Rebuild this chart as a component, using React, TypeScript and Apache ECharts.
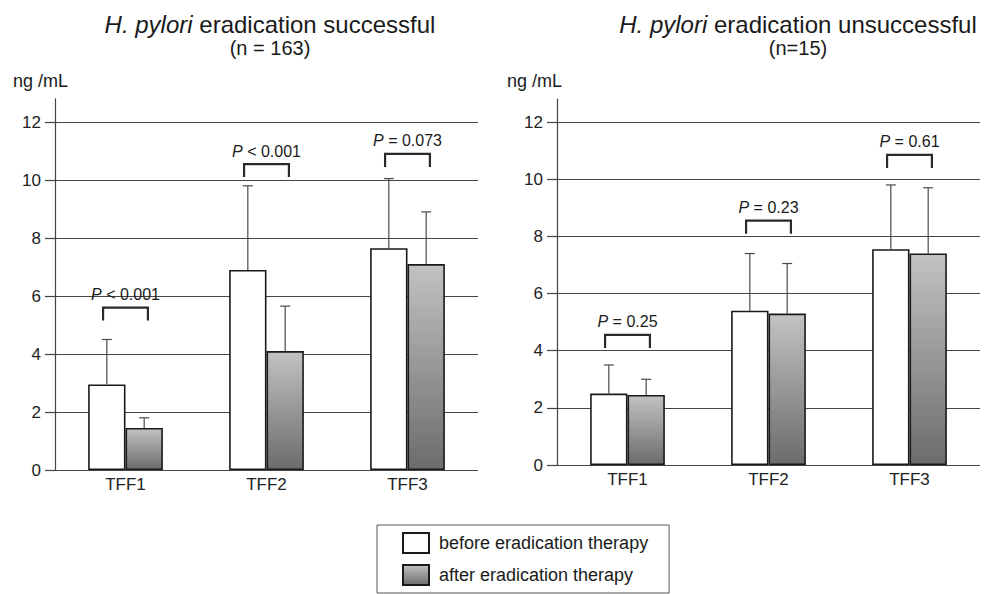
import React, { useEffect, useRef } from "react";
import * as echarts from "echarts";

const categories = ["TFF1", "TFF2", "TFF3"];
const yTicks = [0, 2, 4, 6, 8, 10, 12];

// Left panel: eradication successful (n = 163)
const leftBefore = [2.95, 6.9, 7.65];
const leftBeforeErrTop = [4.5, 9.8, 10.05];
const leftAfter = [1.45, 4.1, 7.1];
const leftAfterErrTop = [1.8, 5.65, 8.9];
const leftP = ["< 0.001", "< 0.001", "= 0.073"];
const leftBracket = [5.6, 10.55, 10.9];

// Right panel: eradication unsuccessful (n = 15)
const rightBefore = [2.5, 5.4, 7.55];
const rightBeforeErrTop = [3.5, 7.4, 9.8];
const rightAfter = [2.45, 5.3, 7.4];
const rightAfterErrTop = [3.0, 7.05, 9.7];
const rightP = ["= 0.25", "= 0.23", "= 0.61"];
const rightBracket = [4.55, 8.55, 10.85];

const BEFORE = "before eradication therapy";
const AFTER = "after eradication therapy";
const FONT = "'Liberation Sans', Arial, Helvetica, sans-serif";
const GAP = 0.47;

export default function App() {
  const ref = useRef<HTMLDivElement>(null);

  useEffect(() => {
    if (!ref.current) return;
    const chart = echarts.init(ref.current, null, { renderer: "svg" });

    const afterFill = new echarts.graphic.LinearGradient(0, 0, 0, 1, [
      { offset: 0, color: "#c2c2c2" },
      { offset: 1, color: "#6c6c6c" },
    ]);

    const barStyleBefore = { color: "#ffffff", borderColor: "#1a1a1a", borderWidth: 1.6 };
    const barStyleAfter = { color: afterFill, borderColor: "#1a1a1a", borderWidth: 1.6 };

    const errRender = (params: any, api: any) => {
      const c = api.value(0);
      const v = api.value(1);
      const t = api.value(2);
      const side = api.value(3);
      const p0 = api.coord([c, v]);
      const p1 = api.coord([c, t]);
      const band = api.size([1, 0])[0];
      const bw = (band * (1 - GAP)) / 2;
      const x = p0[0] + (side * bw) / 2;
      const st = { stroke: "#4a4a4a", lineWidth: 1.2 };
      return {
        type: "group",
        children: [
          { type: "line", shape: { x1: x, y1: p0[1], x2: x, y2: p1[1] }, style: st },
          { type: "line", shape: { x1: x - 5, y1: p1[1], x2: x + 5, y2: p1[1] }, style: st },
        ],
      };
    };

    const bracketRender = (pTexts: string[]) => (params: any, api: any) => {
      const c = api.value(0);
      const top = api.value(1);
      const p = api.coord([c, top]);
      const band = api.size([1, 0])[0];
      const bw = (band * (1 - GAP)) / 2;
      const xl = p[0] - bw * 0.6;
      const xr = p[0] + bw * 0.6;
      return {
        type: "group",
        children: [
          {
            type: "polyline",
            shape: { points: [[xl, p[1] + 13], [xl, p[1]], [xr, p[1]], [xr, p[1] + 13]] },
            style: { stroke: "#2a2a2a", lineWidth: 2.2, fill: "none" },
          },
          {
            type: "text",
            x: p[0],
            y: p[1] - 5,
            style: {
              text: "{i|P} " + pTexts[params.dataIndex],
              align: "center",
              verticalAlign: "bottom",
              fill: "#1a1a1a",
              font: `16px ${FONT}`,
              rich: {
                i: { fontStyle: "italic", fontSize: 16, fontFamily: FONT, fill: "#1a1a1a" },
              },
            },
          },
        ],
      };
    };

    const errData = (vals: number[], tops: number[], side: number) =>
      vals.map((v, i) => [i, v, tops[i], side]);
    const bracketData = (b: number[]) => b.map((v, i) => [i, v]);

    const yAxisBase = {
      type: "value",
      min: 0,
      max: 12.8,
      axisLine: { show: true, lineStyle: { color: "#444", width: 1.2 } },
      axisTick: { show: true, length: 10, customValues: yTicks, lineStyle: { color: "#444", width: 1.2 } },
      axisLabel: { customValues: yTicks, fontSize: 17, color: "#222", margin: 14, fontFamily: FONT },
      splitLine: { show: true, lineStyle: { color: "#444", width: 1.2 } },
    };
    const xAxisBase = {
      type: "category",
      data: categories,
      axisLine: { show: false },
      axisTick: { show: false },
      axisLabel: { fontSize: 17, color: "#222", margin: 6, fontFamily: FONT },
    };

    const titleText = (x: number, rest: string, sub: string) => [
      {
        type: "text",
        x,
        y: 24,
        style: {
          text: "{i|H. pylori} " + rest,
          align: "center",
          verticalAlign: "middle",
          fill: "#1a1a1a",
          font: `24px ${FONT}`,
          rich: { i: { fontStyle: "italic", fontSize: 24, fontFamily: FONT, fill: "#1a1a1a" } },
        },
      },
      {
        type: "text",
        x,
        y: 48,
        style: {
          text: sub,
          align: "center",
          verticalAlign: "middle",
          fill: "#1a1a1a",
          font: `20px ${FONT}`,
        },
      },
    ];

    chart.setOption({
      animation: false,
      textStyle: { fontFamily: FONT },
      grid: [
        { left: 55, top: 98.8, width: 423, height: 371.2 },
        { left: 557, top: 99.2, width: 423, height: 365.8 },
      ],
      xAxis: [
        { ...xAxisBase, gridIndex: 0 },
        { ...xAxisBase, gridIndex: 1 },
      ],
      yAxis: [
        { ...yAxisBase, gridIndex: 0 },
        { ...yAxisBase, gridIndex: 1 },
      ],
      legend: {
        orient: "vertical",
        left: 377,
        top: 525,
        padding: [7, 21, 7, 25],
        itemGap: 10,
        itemWidth: 26,
        itemHeight: 20,
        icon: "rect",
        borderColor: "#555",
        borderWidth: 1,
        data: [BEFORE, AFTER],
        textStyle: { fontSize: 18, color: "#1a1a1a", fontFamily: FONT, padding: [0, 0, 0, 5] },
      },
      graphic: [
        ...titleText(270, "eradication successful", "(n = 163)"),
        ...titleText(798, "eradication unsuccessful", "(n=15)"),
        {
          type: "text",
          x: 13,
          y: 81,
          style: { text: "ng /mL", fill: "#1a1a1a", font: `18px ${FONT}`, verticalAlign: "middle" },
        },
        {
          type: "text",
          x: 507,
          y: 81,
          style: { text: "ng /mL", fill: "#1a1a1a", font: `18px ${FONT}`, verticalAlign: "middle" },
        },
      ],
      series: [
        {
          type: "bar",
          name: BEFORE,
          xAxisIndex: 0,
          yAxisIndex: 0,
          data: leftBefore,
          barGap: "0%",
          barCategoryGap: GAP * 100 + "%",
          itemStyle: barStyleBefore,
        },
        {
          type: "bar",
          name: AFTER,
          xAxisIndex: 0,
          yAxisIndex: 0,
          data: leftAfter,
          barGap: "0%",
          barCategoryGap: GAP * 100 + "%",
          itemStyle: barStyleAfter,
        },
        {
          type: "bar",
          name: BEFORE,
          xAxisIndex: 1,
          yAxisIndex: 1,
          data: rightBefore,
          barGap: "0%",
          barCategoryGap: GAP * 100 + "%",
          itemStyle: barStyleBefore,
        },
        {
          type: "bar",
          name: AFTER,
          xAxisIndex: 1,
          yAxisIndex: 1,
          data: rightAfter,
          barGap: "0%",
          barCategoryGap: GAP * 100 + "%",
          itemStyle: barStyleAfter,
        },
        {
          type: "custom",
          xAxisIndex: 0,
          yAxisIndex: 0,
          renderItem: errRender,
          data: [...errData(leftBefore, leftBeforeErrTop, -1), ...errData(leftAfter, leftAfterErrTop, 1)],
          z: 1,
        },
        {
          type: "custom",
          xAxisIndex: 1,
          yAxisIndex: 1,
          renderItem: errRender,
          data: [...errData(rightBefore, rightBeforeErrTop, -1), ...errData(rightAfter, rightAfterErrTop, 1)],
          z: 1,
        },
        {
          type: "custom",
          xAxisIndex: 0,
          yAxisIndex: 0,
          renderItem: bracketRender(leftP),
          data: bracketData(leftBracket),
          z: 3,
        },
        {
          type: "custom",
          xAxisIndex: 1,
          yAxisIndex: 1,
          renderItem: bracketRender(rightP),
          data: bracketData(rightBracket),
          z: 3,
        },
      ],
    });

    return () => chart.dispose();
  }, []);

  return (
    <div
      ref={ref}
      style={{ position: "fixed", left: 0, top: 0, width: 990, height: 594, background: "#fff" }}
    />
  );
}
